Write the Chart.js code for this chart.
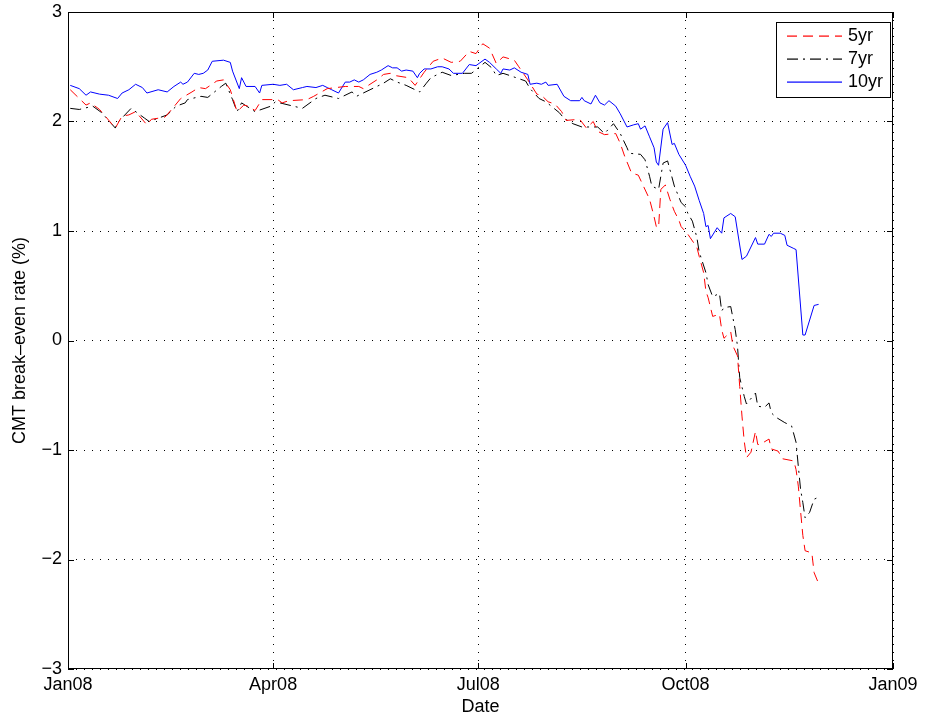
<!DOCTYPE html>
<html lang="en">
<head>
<meta charset="UTF-8" />
<title>CMT break-even rate</title>
<script src="https://cdn.jsdelivr.net/npm/chart.js"></script>
<style>
  html, body { margin: 0; padding: 0; background: #fff; }
</style>
</head>
<body>
<canvas id="chart" width="930" height="719"></canvas>
<script>
// x values are days counted from 1 Jan 2008 (day 0)
const days5 = [1,8,10,14,21,24,27,30,35,37,43,46,50,55,58,61,66,69,72,75,78,80,83,86,93,95,98,106,109,115,123,129,131,137,140,143,145,151,154,158,162,166,170,174,178,181,184,187,190,193,198,200,204,208,210,213,216,219,221,227,230,233,235,238,243,245,247,250,253,258,260,261,262,263,265,267,269,271,272,275,276,279,280,282,283,284,286,289,290,291,294,295,297,298,299,300,301,303,305,306,307,311,312,315,317,322,323,324,325,326,327,330,331,333];
const rate5 = [2.29,2.15,2.17,2.11,1.94,2.05,2.06,2.09,1.97,2.02,2.04,2.11,2.21,2.27,2.31,2.30,2.37,2.38,2.29,2.09,2.15,2.14,2.10,2.20,2.20,2.17,2.19,2.20,2.23,2.30,2.32,2.32,2.30,2.38,2.43,2.44,2.42,2.40,2.33,2.45,2.55,2.58,2.54,2.55,2.64,2.62,2.71,2.67,2.53,2.59,2.56,2.50,2.38,2.25,2.24,2.18,2.16,2.09,2.01,2.02,1.94,2.00,1.91,1.88,1.89,1.80,1.68,1.53,1.51,1.29,1.13,1.04,1.03,1.38,1.42,1.29,1.18,1.10,1.04,0.97,0.94,0.85,0.77,0.62,0.45,0.39,0.22,0.24,0.10,0.02,0.08,-0.05,-0.14,-0.42,-0.69,-0.92,-1.07,-1.02,-0.83,-0.95,-0.95,-0.90,-0.99,-1.01,-1.08,-1.10,-1.18,-1.33,-1.56,-1.78,-1.92,-1.94,-2.12,-2.22];

const days7 = [1,5,11,15,21,22,28,34,36,44,48,52,53,59,62,68,70,73,75,77,83,90,92,100,104,110,114,120,126,128,134,137,140,143,146,150,154,156,159,161,166,170,176,179,185,188,190,193,196,203,205,209,212,218,220,224,228,235,237,238,242,245,248,249,254,256,258,259,262,264,266,269,272,274,275,277,279,280,283,284,286,289,290,291,294,296,297,298,300,301,305,306,309,311,312,314,318,321,323,324,325,326,327,329,331,333];
const rate7 = [2.12,2.11,2.14,2.08,1.94,1.99,2.12,2.03,2.00,2.06,2.14,2.17,2.20,2.23,2.22,2.32,2.35,2.20,2.09,2.17,2.09,2.14,2.18,2.14,2.12,2.21,2.24,2.21,2.27,2.23,2.29,2.32,2.35,2.39,2.36,2.33,2.29,2.27,2.35,2.40,2.45,2.42,2.44,2.44,2.54,2.49,2.42,2.44,2.42,2.37,2.30,2.21,2.18,2.08,2.03,1.98,1.95,1.95,1.91,1.89,1.98,1.89,1.76,1.71,1.70,1.65,1.50,1.41,1.38,1.62,1.64,1.41,1.26,1.22,1.16,1.09,0.94,0.81,0.62,0.51,0.40,0.43,0.27,0.30,0.31,0.10,-0.05,-0.34,-0.51,-0.58,-0.48,-0.60,-0.61,-0.57,-0.66,-0.70,-0.75,-0.78,-0.93,-1.15,-1.36,-1.48,-1.62,-1.57,-1.45,-1.43];

const days10 = [1,5,8,10,14,18,22,24,27,30,33,35,40,44,47,50,51,53,56,58,60,62,64,69,72,73,76,77,79,83,85,86,91,94,97,100,104,106,110,113,115,117,120,123,125,127,129,131,134,137,139,142,144,146,148,150,153,155,156,158,161,164,166,169,171,175,178,181,185,187,190,192,193,196,198,201,204,205,208,210,212,213,217,220,223,227,228,229,232,234,236,238,240,243,245,248,251,253,254,256,258,260,261,262,264,266,268,269,271,274,276,278,280,282,283,284,285,288,290,291,294,296,297,299,301,305,306,309,311,312,313,316,318,319,322,323,326,327,331,333];
const rate10 = [2.33,2.30,2.24,2.27,2.25,2.24,2.21,2.26,2.29,2.34,2.31,2.26,2.29,2.27,2.32,2.36,2.34,2.36,2.44,2.43,2.44,2.47,2.55,2.56,2.54,2.46,2.30,2.40,2.32,2.32,2.26,2.33,2.34,2.33,2.34,2.29,2.31,2.32,2.31,2.33,2.31,2.29,2.26,2.36,2.36,2.38,2.36,2.38,2.43,2.45,2.47,2.51,2.49,2.49,2.46,2.47,2.46,2.40,2.44,2.48,2.48,2.50,2.50,2.48,2.44,2.44,2.52,2.51,2.57,2.54,2.48,2.44,2.48,2.47,2.49,2.45,2.43,2.34,2.35,2.34,2.36,2.33,2.34,2.23,2.19,2.19,2.22,2.19,2.16,2.24,2.17,2.15,2.19,2.14,2.07,1.95,1.97,1.98,1.93,1.96,1.86,1.76,1.63,1.60,1.93,1.99,1.79,1.80,1.70,1.60,1.50,1.41,1.28,1.16,1.04,1.05,0.93,1.03,0.98,1.12,1.16,1.13,1.00,0.74,0.77,0.94,0.88,0.88,0.97,0.95,0.98,0.98,0.96,0.87,0.84,0.83,0.05,0.05,0.32,0.33];

const tickDays = [0, 91, 182, 274, 366];
const tickLabels = ['Jan08', 'Apr08', 'Jul08', 'Oct08', 'Jan09'];
const yTicks = [-3, -2, -1, 0, 1, 2, 3];
const seriesNames = ['5yr', '7yr', '10yr'];
const seriesColors = ['rgb(255,0,0)', 'rgb(0,0,0)', 'rgb(0,0,255)'];
const seriesDash = [[10, 6], [11, 5, 2, 5], []];

const FONT = '"Liberation Sans", Arial, Helvetica, sans-serif';

function pts(days, vals) {
    return days.map((d, i) => ({ x: d, y: vals[i] }));
}

// box, inward tick marks and a boxed legend like the matlab figure
const matlabAxes = {
    id: 'matlabAxes',
    afterDraw(chart) {
        const { ctx, chartArea: a, scales: { x, y } } = chart;
        ctx.save();
        ctx.strokeStyle = '#000';
        ctx.lineWidth = 1;
        ctx.setLineDash([]);
        ctx.strokeRect(a.left + 0.5, a.top + 0.5, a.width - 1, a.height - 1);
        ctx.beginPath();
        tickDays.forEach(d => {
            const px = Math.round(x.getPixelForValue(d)) + 0.5;
            ctx.moveTo(px, a.bottom); ctx.lineTo(px, a.bottom - 6);
            ctx.moveTo(px, a.top); ctx.lineTo(px, a.top + 6);
        });
        yTicks.forEach(v => {
            const py = Math.round(y.getPixelForValue(v)) + 0.5;
            ctx.moveTo(a.left, py); ctx.lineTo(a.left + 6, py);
            ctx.moveTo(a.right, py); ctx.lineTo(a.right - 6, py);
        });
        ctx.stroke();
        ctx.restore();

        // legend
        const bw = 114, bh = 75;
        const bx = Math.round(a.right - 3 - bw), by = Math.round(a.top + 10);
        ctx.save();
        ctx.fillStyle = '#fff';
        ctx.fillRect(bx, by, bw, bh);
        ctx.strokeStyle = '#000';
        ctx.lineWidth = 1;
        ctx.strokeRect(bx + 0.5, by + 0.5, bw, bh);
        ctx.font = '18px ' + FONT;
        ctx.textBaseline = 'middle';
        seriesNames.forEach((name, i) => {
            const ly = by + 13 + i * 23;
            // line sample, soft like the anti-aliased matlab legend
            ctx.fillStyle = seriesColors[i];
            const pat = seriesDash[i].length ? seriesDash[i] : [55, 0];
            let px = bx + 11, k = 0, on = true;
            while (px < bx + 66) {
                const len = Math.min(pat[k % pat.length], bx + 66 - px);
                if (on && len > 0) ctx.fillRect(px, ly + 0.5, len, 1.2);
                px += pat[k % pat.length];
                k++;
                on = !on;
            }
            ctx.fillStyle = '#000';
            ctx.fillText(name, bx + 72, ly + 1);
        });
        ctx.restore();
    }
};

new Chart(document.getElementById('chart'), {
    type: 'line',
    data: {
        datasets: [
            { label: seriesNames[0], data: pts(days5, rate5), borderColor: seriesColors[0], borderDash: seriesDash[0] },
            { label: seriesNames[1], data: pts(days7, rate7), borderColor: seriesColors[1], borderDash: seriesDash[1] },
            { label: seriesNames[2], data: pts(days10, rate10), borderColor: seriesColors[2], borderDash: seriesDash[2] }
        ]
    },
    options: {
        responsive: false,
        animation: false,
        layout: { padding: { left: 0, right: 37, top: 12, bottom: 0 } },
        elements: {
            line: { borderWidth: 1, tension: 0, fill: false },
            point: { radius: 0 }
        },
        plugins: { legend: { display: false }, tooltip: { enabled: false } },
        scales: {
            x: {
                type: 'linear',
                min: 0,
                max: 366,
                afterBuildTicks: s => { s.ticks = tickDays.map(v => ({ value: v })); },
                afterFit: s => { s.height = 50; s.paddingLeft = 0; s.paddingRight = 0; },
                ticks: {
                    autoSkip: false,
                    maxRotation: 0,
                    padding: 5,
                    color: '#000',
                    font: { family: FONT, size: 18 },
                    callback: v => tickLabels[tickDays.indexOf(v)]
                },
                grid: { color: '#000', lineWidth: 1, drawTicks: false },
                border: { display: false, dash: [1, 7] },
                title: { display: true, text: 'Date', color: '#000', font: { family: FONT, size: 18 }, padding: { top: 0, bottom: 1 } }
            },
            y: {
                min: -3,
                max: 3,
                afterBuildTicks: s => { s.ticks = yTicks.map(v => ({ value: v })); },
                afterFit: s => { s.width = 68; s.paddingTop = 0; s.paddingBottom = 0; },
                ticks: {
                    padding: 6,
                    color: '#000',
                    font: { family: FONT, size: 18 },
                    callback: v => (v < 0 ? '\u2212' + Math.abs(v) : String(v))
                },
                grid: { color: '#000', lineWidth: 1, drawTicks: false },
                border: { display: false, dash: [1, 7] },
                title: { display: true, text: 'CMT break\u2013even rate (%)', color: '#000', font: { family: FONT, size: 18 }, padding: { top: 9, bottom: 0 } }
            }
        }
    },
    plugins: [matlabAxes]
});
</script>
</body>
</html>
